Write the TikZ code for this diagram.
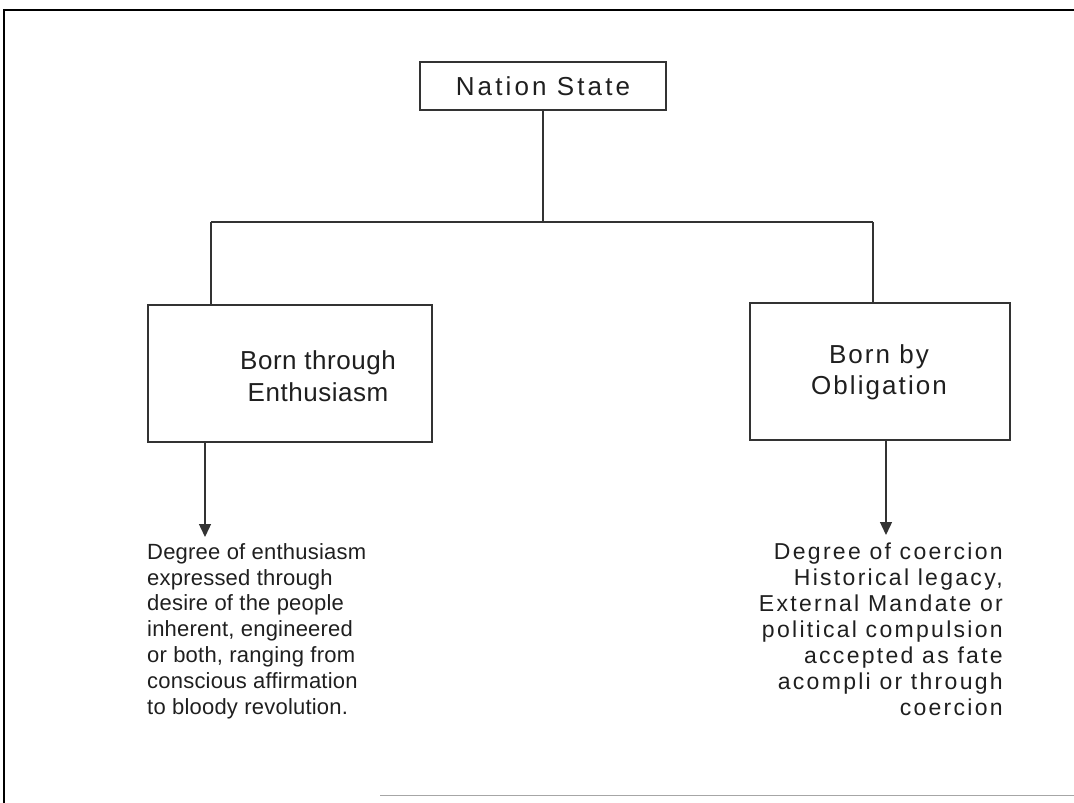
\documentclass[tikz,border=0pt]{standalone}
\usepackage{fontspec}
\setmainfont{Liberation Sans}
\usetikzlibrary{arrows.meta}
\definecolor{ink}{gray}{0.12}
\definecolor{rule}{gray}{0.2}
\tikzset{
  box/.style={draw=rule, line width=1.4pt, fill=white, inner sep=0pt},
  boxtext/.style={inner sep=0pt, align=center, text=ink},
  link/.style={draw=rule, line width=1.4pt},
  down/.style={link, -{Triangle[length=13pt,width=12pt]}},
  body/.style={inner sep=0pt, text=ink},
  frame/.style={draw=black, line width=2pt}
}
\begin{document}
\begin{tikzpicture}[x=1pt,y=-1pt]
  \useasboundingbox (0,0) rectangle (1074,803);
  % outer frame (top and left edges, partial bottom rule)
  \coordinate (f1) at (4,803);
  \coordinate (f2) at (4,10);
  \coordinate (f3) at (1074,10);
  \coordinate (b1) at (380,795);
  \coordinate (b2) at (1074,795);
  \draw[frame] (f1) -- (f2) -- (f3);
  \draw[draw=gray!70, line width=1pt] (b1) -- (b2);

  % boxes
  \node[box, minimum width=246pt, minimum height=48pt] (ns) at (543,86) {};
  \node[boxtext, font=\fontsize{26}{32}\selectfont\addfontfeature{LetterSpace=12}] (nst) at (ns.center) {Nation State};
  \node[box, minimum width=284pt, minimum height=137pt] (lb) at (290,373.5) {};
  \node[boxtext, font=\fontsize{26}{32}\selectfont\addfontfeature{LetterSpace=2}] (lbt) at (318,376) {Born through\\Enthusiasm};
  \node[box, minimum width=260pt, minimum height=137pt] (rb) at (880,371.5) {};
  \node[boxtext, font=\fontsize{26}{31}\selectfont\addfontfeature{LetterSpace=8}] (rbt) at (879,372.5) {Born by\\Obligation};

  % tree connectors
  \coordinate (j)  at (543,222);
  \coordinate (jl) at (211,222);
  \coordinate (jr) at (873,222);
  \draw[link] (ns.south) -- (j);
  \draw[link] (jl) -- (jr);
  \draw[link] (jl) -- (jl |- lb.north);
  \draw[link] (jr) -- (jr |- rb.north);

  % descriptions
  \node[body, anchor=north west, align=left, font=\fontsize{22}{25.9}\selectfont\addfontfeature{LetterSpace=1}] (lt) at (147,543)
    {Degree of enthusiasm\\expressed through\\desire of the people\\inherent, engineered\\or both, ranging from\\conscious affirmation\\to bloody revolution.};
  \node[body, anchor=north east, align=right, font=\fontsize{23}{25.9}\selectfont\addfontfeature{LetterSpace=10}] (rt) at (1003,543)
    {Degree of coercion\\Historical legacy,\\External Mandate or\\political compulsion\\accepted as fate\\acompli or through\\coercion};

  % arrows from boxes to descriptions
  \coordinate (la) at (205,537);
  \coordinate (ra) at (886,535);
  \draw[down] (la |- lb.south) -- (la);
  \draw[down] (ra |- rb.south) -- (ra);
\end{tikzpicture}
\end{document}
